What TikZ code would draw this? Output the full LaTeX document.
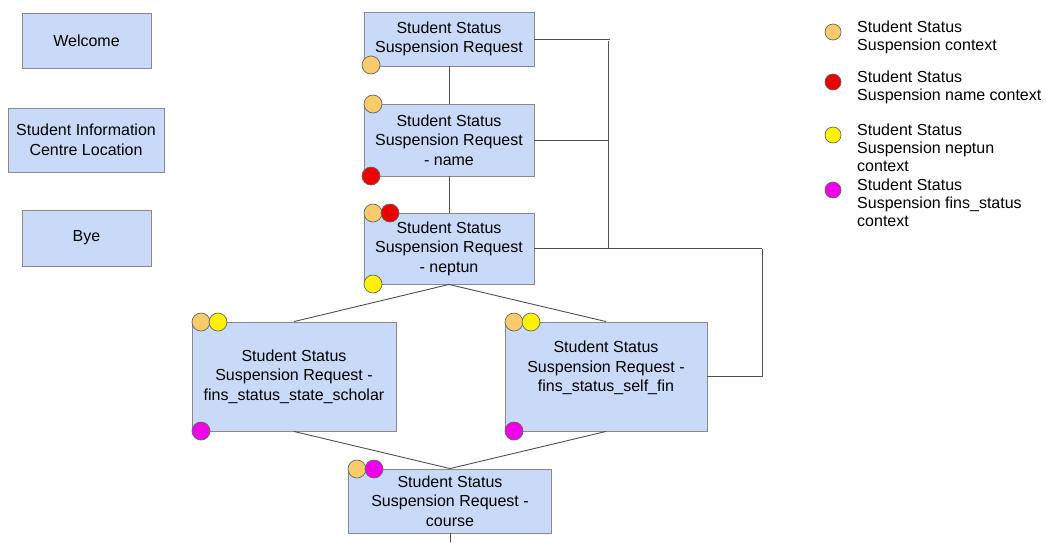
\documentclass[tikz,border=0pt]{standalone}
\usepackage{fontspec}
\setmainfont{Liberation Sans}
\definecolor{boxfill}{HTML}{C9DAF8}
\definecolor{boxline}{HTML}{8A8A8A}
\definecolor{linegray}{HTML}{505050}
\definecolor{ctxorange}{HTML}{F9CB6B}
\definecolor{ctxred}{HTML}{EE0000}
\definecolor{ctxyellow}{HTML}{FFF200}
\definecolor{ctxmagenta}{HTML}{F000E8}
\tikzset{
  intent/.style={draw=boxline, fill=boxfill, line width=0.9pt, rectangle,
    inner sep=0pt, align=center, font=\fontsize{16}{19.5}\selectfont},
  flow/.style={draw=linegray, line width=0.9pt},
  ctx/.style={circle, draw=black!60, line width=0.7pt, minimum size=18pt, inner sep=0pt},
  legtext/.style={anchor=west, align=left, inner sep=0pt, font=\fontsize{16}{18}\selectfont}
}
\begin{document}
\begin{tikzpicture}[x=1pt, y=-1pt]
\useasboundingbox[fill=white] (0,0) rectangle (1046,542);

% standalone intents
\node[intent, minimum width=129pt, minimum height=55pt] (welcome) at (86.5,40.5) {Welcome};
\node[intent, minimum width=156pt, minimum height=64pt] (sicloc) at (86,140) {Student Information\\Centre Location};
\node[intent, minimum width=129pt, minimum height=56pt] (bye) at (86.5,238) {Bye};

% suspension request flow
\node[intent, minimum width=170pt, minimum height=54pt] (req) at (449,39) {Student Status\\Suspension Request};
\node[intent, minimum width=170pt, minimum height=72pt] (reqname) at (449,140) {Student Status\\Suspension Request\\- name};
\node[intent, minimum width=170pt, minimum height=71pt] (reqneptun) at (449,248.5) {Student Status\\Suspension Request\\- neptun};
\node[intent, minimum width=204pt, minimum height=109pt] (reqscholar) at (294,376.5) {Student Status\\Suspension Request -\\fins\_status\_state\_scholar};
\node[intent, minimum width=202pt, minimum height=109pt] (reqselffin) at (606,376.5) {};
\node[align=center, inner sep=0pt, font=\fontsize{16}{19.5}\selectfont] (reqselffintext) at (606,368) {Student Status\\Suspension Request -\\fins\_status\_self\_fin};
\node[intent, minimum width=203pt, minimum height=64pt] (reqcourse) at (450,501) {Student Status\\Suspension Request -\\course};

% rails on the right
\coordinate (railA) at (608,0);
\coordinate (railB) at (762,0);
\coordinate (exit) at (450,542);

\draw[flow] (req.south) -- (reqname.north);
\draw[flow] (reqname.south) -- (reqneptun.north);
\draw[flow] (reqneptun.south) -- (reqscholar.north);
\draw[flow] (reqneptun.south) -- (reqselffin.north);
\draw[flow] (reqscholar.south) -- (reqcourse.north);
\draw[flow] (reqselffin.south) -- (reqcourse.north);
\draw[flow] (reqcourse.south) -- (exit);

\draw[flow] (req.east) -- ([xshift=2pt]req.east -| railA);
\draw[flow] (reqname.east) -- (reqname.east -| railA);
\draw[flow] ([yshift=-2pt]req.east -| railA) -- (reqneptun.east -| railA);
\draw[flow] (reqneptun.east) -- (reqneptun.east -| railB);
\draw[flow] (reqneptun.east -| railB) -- (reqselffin.east -| railB);
\draw[flow] (reqselffin.east) -- (reqselffin.east -| railB);

% context markers
\node[ctx, fill=ctxorange] (c1a) at (371,65) {};
\node[ctx, fill=ctxorange] (c2a) at (373,104) {};
\node[ctx, fill=ctxred] (c2b) at (371,176) {};
\node[ctx, fill=ctxorange] (c3a) at (373,213) {};
\node[ctx, fill=ctxred] (c3b) at (390,213) {};
\node[ctx, fill=ctxyellow] (c3c) at (373,284) {};
\node[ctx, fill=ctxorange] (c4a) at (201,322) {};
\node[ctx, fill=ctxyellow] (c4b) at (218,322) {};
\node[ctx, fill=ctxmagenta] (c4c) at (201,431) {};
\node[ctx, fill=ctxorange] (c5a) at (514,322) {};
\node[ctx, fill=ctxyellow] (c5b) at (531,322) {};
\node[ctx, fill=ctxmagenta] (c5c) at (514,431) {};
\node[ctx, fill=ctxorange] (c6a) at (357,469) {};
\node[ctx, fill=ctxmagenta] (c6b) at (374,469) {};

% legend
\node[ctx, fill=ctxorange, minimum size=16pt] (l1) at (833,32) {};
\node[legtext] (l1t) at (857,37) {Student Status\\Suspension context};
\node[ctx, fill=ctxred, minimum size=16pt] (l2) at (833,82) {};
\node[legtext] (l2t) at (857,87) {Student Status\\Suspension name context};
\node[ctx, fill=ctxyellow, minimum size=16pt] (l3) at (833,135) {};
\node[legtext] (l3t) at (857,148) {Student Status\\Suspension neptun\\context};
\node[ctx, fill=ctxmagenta, minimum size=16pt] (l4) at (833,190) {};
\node[legtext] (l4t) at (857,203) {Student Status\\Suspension fins\_status\\context};
\end{tikzpicture}
\end{document}
